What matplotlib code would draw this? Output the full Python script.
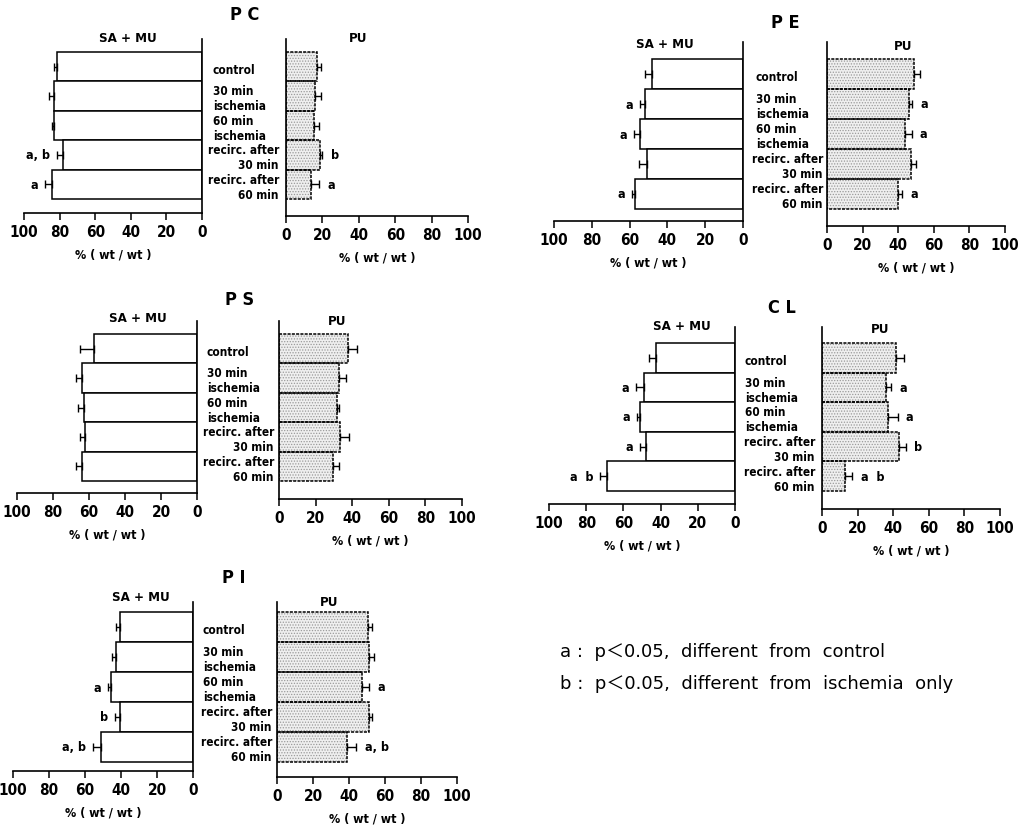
import matplotlib.pyplot as plt
from matplotlib.transforms import blended_transform_factory

plt.rcParams['font.family'] = ['DejaVu Sans']
plt.rcParams['font.stretch'] = 'condensed'
plt.rcParams['hatch.linewidth'] = 0.6

categories = ['control', '30 min\nischemia', '60 min\nischemia',
              'recirc. after\n30 min', 'recirc. after\n60 min']
ticks = [0, 20, 40, 60, 80, 100]

# PC
pc_samu = [81.5, 83, 83, 78, 84.5]
pc_samu_err = [1.5, 3, 1.5, 3.5, 3.5]
pc_samu_sig = ['', '', '', 'a, b', 'a']
pc_pu = [17, 16, 15.5, 18.5, 13.5]
pc_pu_err = [2.5, 3, 2.5, 1.5, 4.5]
pc_pu_sig = ['', '', '', 'b', 'a']

# PE
pe_samu = [48, 52, 54.5, 51, 57]
pe_samu_err = [4, 2.5, 3, 4, 1.5]
pe_samu_sig = ['', 'a', 'a', '', 'a']
pe_pu = [49, 46, 44, 47, 40]
pe_pu_err = [3.5, 2, 3.5, 3, 2]
pe_pu_sig = ['', 'a', 'a', '', 'a']

# PS
ps_samu = [57, 64, 63, 62, 64]
ps_samu_err = [8, 3.5, 3, 3, 3.5]
ps_samu_sig = ['', '', '', '', '']
ps_pu = [37.5, 33, 31.5, 33.5, 29.5]
ps_pu_err = [5, 3.5, 1.5, 4.5, 3.5]
ps_pu_sig = ['', '', '', '', '']

# CL
cl_samu = [42.5, 49, 51, 48, 69]
cl_samu_err = [3.5, 4, 1.5, 3, 3.5]
cl_samu_sig = ['', 'a', 'a', 'a', 'a  b']
cl_pu = [41.5, 36, 37, 43, 13]
cl_pu_err = [4.5, 3, 5.5, 4, 4]
cl_pu_sig = ['', 'a', 'a', 'b', 'a  b']

# PI
pi_samu = [40.5, 43, 45.5, 40.5, 51]
pi_samu_err = [2.5, 2, 1.5, 3, 4.5]
pi_samu_sig = ['', '', 'a', 'b', 'a, b']
pi_pu = [50.5, 51, 47, 51, 39]
pi_pu_err = [2.5, 3, 4, 2, 5]
pi_pu_sig = ['', '', 'a', '', 'a, b']

W, H = 1020, 828
fig = plt.figure(figsize=(W / 100, H / 100), dpi=100)


def fx(x):
    return x / W


def fy(y):
    return 1 - y / H


def style_axis(ax, side):
    for s in ['top', 'left', 'right']:
        ax.spines[s].set_visible(False)
    ax.spines[side].set_visible(True)
    for s in ['bottom', side]:
        ax.spines[s].set_linewidth(1.2)
    ax.set_yticks([])
    ax.set_xticks(ticks)
    ax.set_xlim(0, 100)
    ax.tick_params(axis='x', direction='out', length=5, width=1.1, pad=3,
                   labelsize=11)
    for lab in ax.get_xticklabels():
        lab.set_fontweight('bold')
    ax.set_facecolor('none')


def draw_panel(title, samu, samu_err, samu_sig, pu, pu_err, pu_sig, lay):
    (lx100, lx0, rx0, rx100, top, btop, bbot, lbot, rbot,
     cx_l, cx_r, t_xy, s_xy, p_xy) = lay
    u = (bbot - btop) / 5.0
    y = list(range(5))

    # SA + MU (left, reversed axis)
    axl = fig.add_axes([fx(lx100), fy(lbot), (lx0 - lx100) / W, (lbot - top) / H])
    style_axis(axl, 'right')
    axl.set_xlim(100, 0)
    axl.set_ylim(4.5 + (lbot - bbot) / u, -0.5 - (btop - top) / u)
    axl.barh(y, samu, height=1, color='white', edgecolor='black', linewidth=1.1)
    axl.errorbar(samu, y, xerr=[[0] * 5, samu_err], fmt='none', ecolor='black',
                 elinewidth=1, capsize=3, capthick=1)
    for i in range(5):
        if samu_sig[i]:
            axl.annotate(samu_sig[i], xy=(samu[i] + samu_err[i], i), xytext=(-5, 0),
                         textcoords='offset points', ha='right', va='center',
                         fontsize=9, fontweight='bold')
    axl.set_xlabel('% ( wt / wt )', fontsize=9, fontweight='bold', labelpad=6)

    # PU (right)
    axr = fig.add_axes([fx(rx0), fy(rbot), (rx100 - rx0) / W, (rbot - top) / H])
    style_axis(axr, 'left')
    axr.set_ylim(4.5 + (rbot - bbot) / u, -0.5 - (btop - top) / u)
    axr.barh(y, pu, height=1, color='#efefef', edgecolor='#9a9a9a', hatch='......',
             linewidth=0)
    axr.barh(y, pu, height=1, fill=False, edgecolor='black', linewidth=1.1,
             linestyle=(0, (2, 0.8)))
    axr.errorbar(pu, y, xerr=[[0] * 5, pu_err], fmt='none', ecolor='black',
                 elinewidth=1, capsize=3, capthick=1)
    for i in range(5):
        if pu_sig[i]:
            axr.annotate(pu_sig[i], xy=(pu[i] + pu_err[i], i), xytext=(6, 0),
                         textcoords='offset points', ha='left', va='center',
                         fontsize=9, fontweight='bold')
    axr.set_xlabel('% ( wt / wt )', fontsize=9, fontweight='bold', labelpad=6)

    # category labels between the two axes
    tr = blended_transform_factory(fig.transFigure, axl.transData)
    for i, c in enumerate(categories):
        if i < 3:
            fig.text(fx(cx_l), i + 0.08, c, transform=tr, ha='left', va='center',
                     fontsize=8.5, fontweight='bold', linespacing=1.2)
        else:
            fig.text(fx(cx_r), i + 0.08, c, transform=tr, ha='right', va='center',
                     multialignment='right', fontsize=8.5, fontweight='bold',
                     linespacing=1.2)

    fig.text(fx(t_xy[0]), fy(t_xy[1]), title, ha='center', va='center',
             fontsize=13, fontweight='bold')
    fig.text(fx(s_xy[0]), fy(s_xy[1]), 'SA + MU', ha='center', va='center',
             fontsize=9.5, fontweight='bold')
    fig.text(fx(p_xy[0]), fy(p_xy[1]), 'PU', ha='center', va='center',
             fontsize=9.5, fontweight='bold')


draw_panel('P C', pc_samu, pc_samu_err, pc_samu_sig, pc_pu, pc_pu_err, pc_pu_sig,
           (24, 202, 286, 468, 40, 53, 200, 214, 217, 213, 279,
            (245, 15), (128, 38), (358, 38)))
draw_panel('P E', pe_samu, pe_samu_err, pe_samu_sig, pe_pu, pe_pu_err, pe_pu_sig,
           (554, 743, 827, 1005, 43, 60, 210, 222, 227, 756, 823,
            (785, 23), (665, 45), (903, 47)))
draw_panel('P S', ps_samu, ps_samu_err, ps_samu_sig, ps_pu, ps_pu_err, ps_pu_sig,
           (17, 197, 279, 462, 322, 335, 482, 494, 500, 207, 274,
            (240, 300), (138, 319), (337, 322)))
draw_panel('C L', cl_samu, cl_samu_err, cl_samu_sig, cl_pu, cl_pu_err, cl_pu_sig,
           (549, 735, 822, 1000, 328, 344, 492, 505, 510, 745, 815,
            (782, 308), (682, 327), (880, 330)))
draw_panel('P I', pi_samu, pi_samu_err, pi_samu_sig, pi_pu, pi_pu_err, pi_pu_sig,
           (13, 193, 277, 457, 603, 613, 763, 772, 778, 203, 272,
            (234, 578), (141, 598), (329, 603)))

legend_lines = ['a :  p\uff1c0.05,  different  from  control',
                'b :  p\uff1c0.05,  different  from  ischemia  only']
for k, line in enumerate(legend_lines):
    fig.text(fx(560), fy(652 + 32 * k), line, ha='left', va='center', fontsize=13,
             family=['DejaVu Sans', 'Noto Sans CJK JP'], stretch='normal')

fig.savefig('out.png', dpi=100)
